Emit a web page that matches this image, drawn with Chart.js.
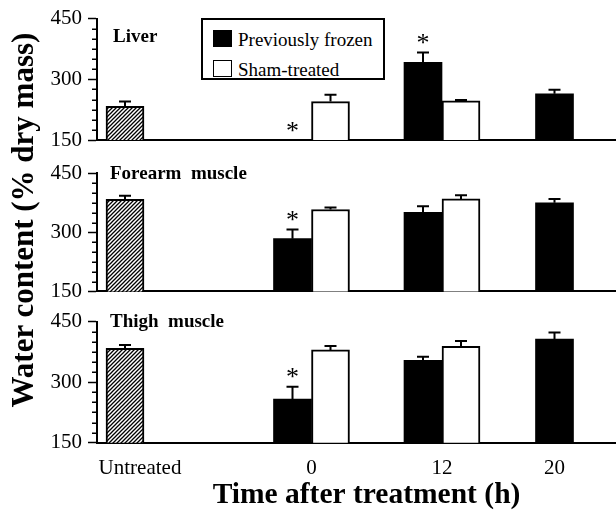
<!DOCTYPE html>
<html>
<head>
<meta charset="utf-8">
<script src="https://cdn.jsdelivr.net/npm/chart.js@4.4.1/dist/chart.umd.min.js"></script>
<style>
html, body { margin:0; padding:0; background:#fff; }
#wrap { position:relative; width:616px; height:514px; overflow:hidden; background:#fff;
        font-family:"Liberation Serif","Times New Roman",serif; color:#000; }
#wrap canvas { position:absolute; left:0; }
#ytitle { position:absolute; width:440px; height:34px; line-height:34px; text-align:center;
          font-weight:bold; font-size:31px; white-space:nowrap;
          left:-197.4px; top:203px; transform:rotate(-90deg); }
#legendBox { position:absolute; left:201px; top:18px; width:180px; height:58px;
             border:2px solid #000; background:#fff; }
.lg-swatch { position:absolute; width:18.5px; height:16.5px; box-sizing:border-box; }
.lg-text { position:absolute; font-size:19px; line-height:20px; white-space:nowrap; }
</style>
</head>
<body>
<div id="wrap">
  <canvas id="cLiver" width="616" height="160" style="top:0px"></canvas>
  <canvas id="cForearm" width="616" height="160" style="top:150px"></canvas>
  <canvas id="cThigh" width="616" height="214" style="top:300px"></canvas>
  <div id="ytitle">Water content (% dry mass)</div>
  <div id="legendBox"></div>
  <div class="lg-swatch" style="left:213px;top:30px;background:#000;"></div>
  <div class="lg-text" id="lgFrozen" style="left:238px;top:30px;"></div>
  <div class="lg-swatch" style="left:213px;top:60px;background:#fff;border:1.5px solid #000;"></div>
  <div class="lg-text" id="lgSham" style="left:238px;top:60px;"></div>
</div>
<script>
// ---------------- data ----------------
const categories = ['Untreated', '0', '12', '20'];
const seriesNames = ['Untreated', 'Previously frozen', 'Sham-treated'];

// Liver
const liverUntreated    = [233, null, null, null];
const liverUntreatedErr = [12, null, null, null];
const liverFrozen       = [null, 150, 342, 264];
const liverFrozenErr    = [null, 0, 24, 10];
const liverSham         = [null, 245, 247, null];
const liverShamErr      = [null, 17, 2, null];
const liverSignif       = [false, true, true, false];

// Forearm muscle
const forearmUntreated    = [384, null, null, null];
const forearmUntreatedErr = [9, null, null, null];
const forearmFrozen       = [null, 284, 351, 375];
const forearmFrozenErr    = [null, 23, 15, 10];
const forearmSham         = [null, 358, 385, null];
const forearmShamErr      = [null, 5, 9, null];
const forearmSignif       = [false, true, false, false];

// Thigh muscle
const thighUntreated    = [384, null, null, null];
const thighUntreatedErr = [8, null, null, null];
const thighFrozen       = [null, 258, 354, 407];
const thighFrozenErr    = [null, 31, 9, 16];
const thighSham         = [null, 380, 389, null];
const thighShamErr      = [null, 10, 13, null];
const thighSignif       = [false, true, false, false];

const yMin = 150, yMax = 450, yMinorStep = 25;
const yMajorTicks = [150, 300, 450];

// ---------------- layout / style ----------------
const FONT = '"Liberation Serif", "Times New Roman", serif';
const SLOT_PX = [28, 214.5, 345, 457.5];     // category centres, px from axis
const LABEL_SHIFT_PX = [15, 0, 0, 0];        // tick label offsets
const X_AXIS_EXTRA_RIGHT = 20;               // axis runs past the canvas edge
const MINOR_TICK_LEN = 5;

document.getElementById('lgFrozen').textContent = seriesNames[1];
document.getElementById('lgSham').textContent = seriesNames[2];

class SlotScale extends Chart.CategoryScale {
  getPixelForValue(value) {
    if (typeof value !== 'number') value = this.parse(value);
    if (value === null || !isFinite(value)) return NaN;
    return this.left + SLOT_PX[Math.round(value)];
  }
  getPixelForTick(index) {
    const t = this.ticks[index];
    if (!t) return null;
    return this.getPixelForValue(t.value) + LABEL_SHIFT_PX[t.value];
  }
}
SlotScale.id = 'slot';
SlotScale.defaults = Chart.CategoryScale.defaults;
Chart.register(SlotScale);

function makeHatch() {
  const s = 4;
  const c = document.createElement('canvas');
  c.width = s; c.height = s;
  const g = c.getContext('2d');
  g.fillStyle = '#fff'; g.fillRect(0, 0, s, s);
  g.strokeStyle = '#000'; g.lineWidth = 1.3;
  g.beginPath();
  g.moveTo(0, s); g.lineTo(s, 0);
  g.moveTo(-1, 1); g.lineTo(1, -1);
  g.moveTo(s - 1, s + 1); g.lineTo(s + 1, s - 1);
  g.stroke();
  return g.createPattern(c, 'repeat');
}
const hatch = makeHatch();

const yTickValues = [];
for (let v = yMin; v <= yMax; v += yMinorStep) yTickValues.push(v);

const errorBarPlugin = {
  id: 'errorBars',
  afterDatasetsDraw(chart) {
    const ctx = chart.ctx;
    const yScale = chart.scales.y;
    chart.data.datasets.forEach((ds, di) => {
      const meta = chart.getDatasetMeta(di);
      meta.data.forEach((bar, i) => {
        const v = ds.data[i];
        if (v === null || v === undefined) return;
        const e = ds.errors ? ds.errors[i] : null;
        let yTop = bar.y;
        ctx.save();
        ctx.strokeStyle = '#000';
        ctx.lineWidth = 2;
        if (e) {
          yTop = yScale.getPixelForValue(v + e);
          ctx.beginPath();
          ctx.moveTo(bar.x, bar.y); ctx.lineTo(bar.x, yTop);
          ctx.moveTo(bar.x - 6, yTop); ctx.lineTo(bar.x + 6, yTop);
          ctx.stroke();
        }
        if (ds.signif && ds.signif[i]) {
          ctx.fillStyle = '#000';
          ctx.font = '26px ' + FONT;
          ctx.textAlign = 'center';
          ctx.textBaseline = 'alphabetic';
          ctx.fillText('*', bar.x, yTop - 1.5);
        }
        ctx.restore();
      });
    });
  }
};

const panelPlugin = {
  id: 'panelLabel',
  afterLayout(chart) {
    const xs = chart.scales.x;
    xs.right += X_AXIS_EXTRA_RIGHT;
    xs.width += X_AXIS_EXTRA_RIGHT;
  },
  afterDraw(chart, args, opts) {
    const ctx = chart.ctx;
    const ys = chart.scales.y;
    ctx.save();
    // minor tick marks (shorter than the major ones)
    ctx.strokeStyle = '#000';
    ctx.lineWidth = 1.5;
    ctx.beginPath();
    ys.ticks.forEach(t => {
      if (yMajorTicks.includes(t.value)) return;
      const py = Math.round(ys.getPixelForValue(t.value)) + 0.25;
      ctx.moveTo(ys.right - MINOR_TICK_LEN, py);
      ctx.lineTo(ys.right, py);
    });
    ctx.stroke();
    // panel label
    ctx.fillStyle = '#000';
    ctx.font = 'bold 19px ' + FONT;
    ctx.textAlign = 'left';
    ctx.textBaseline = 'alphabetic';
    ctx.fillText(opts.text, chart.chartArea.left + opts.dx, chart.chartArea.top + opts.dy);
    ctx.restore();
  }
};

function makePanel(id, label, lp, s, pad, isBottom) {
  return new Chart(document.getElementById(id), {
    type: 'bar',
    data: {
      labels: categories,
      datasets: [
        { label: seriesNames[0], data: s.u, errors: s.ue, backgroundColor: hatch,
          borderColor: '#000', borderWidth: 2 },
        { label: seriesNames[1], data: s.f, errors: s.fe, signif: s.sig, backgroundColor: '#000',
          borderColor: '#000', borderWidth: 0 },
        { label: seriesNames[2], data: s.s, errors: s.se, backgroundColor: '#fff',
          borderColor: '#000', borderWidth: 2 }
      ]
    },
    options: {
      responsive: false, animation: false, devicePixelRatio: 1,
      layout: { padding: { left: 0, right: 0, top: pad.top, bottom: pad.bottom } },
      datasets: { bar: { barThickness: 38, skipNull: true } },
      plugins: {
        legend: { display: false }, tooltip: { enabled: false },
        panelLabel: { text: label, dx: lp.dx, dy: lp.dy }
      },
      scales: {
        x: {
          type: 'slot', labels: categories,
          afterFit: sc => { sc.height = isBottom ? 71.3 : 0; },
          grid: { display: false, drawTicks: false },
          border: { display: true, color: '#000', width: 2 },
          ticks: { display: isBottom, autoSkip: false, maxRotation: 0, minRotation: 0,
                   padding: 13.6, color: '#000', font: { family: FONT, size: 21 } },
          title: { display: isBottom, text: 'Time after treatment (h)', color: '#000',
                   font: { family: FONT, size: 29.5, weight: 'bold' }, padding: { top: 0, bottom: 1 } }
        },
        y: {
          type: 'linear', min: yMin, max: yMax,
          afterFit: sc => { sc.width = 97; },
          afterBuildTicks: sc => { sc.ticks = yTickValues.map(v => ({ value: v })); },
          ticks: { autoSkip: false, padding: 6, color: '#000', font: { family: FONT, size: 21 },
                   callback: v => yMajorTicks.includes(v) ? String(v) : '' },
          grid: { display: true, drawOnChartArea: false, drawTicks: true, tickLength: 9,
                  tickWidth: 1.5,
                  tickColor: c => (c.tick && yMajorTicks.includes(c.tick.value)) ? '#000' : 'rgba(0,0,0,0)' },
          border: { display: true, color: '#000', width: 2 }
        }
      }
    },
    plugins: [errorBarPlugin, panelPlugin]
  });
}

makePanel('cLiver', 'Liver', { dx: 16, dy: 23.3 },
  { u: liverUntreated, ue: liverUntreatedErr, f: liverFrozen, fe: liverFrozenErr,
    s: liverSham, se: liverShamErr, sig: liverSignif },
  { top: 16.7, bottom: 20 }, false);
makePanel('cForearm', 'Forearm  muscle', { dx: 13, dy: 6 },
  { u: forearmUntreated, ue: forearmUntreatedErr, f: forearmFrozen, fe: forearmFrozenErr,
    s: forearmSham, se: forearmShamErr, sig: forearmSignif },
  { top: 23.3, bottom: 17.3 }, false);
makePanel('cThigh', 'Thigh  muscle', { dx: 13, dy: 5.3 },
  { u: thighUntreated, ue: thighUntreatedErr, f: thighFrozen, fe: thighFrozenErr,
    s: thighSham, se: thighShamErr, sig: thighSignif },
  { top: 21.7, bottom: 0 }, true);
</script>
</body>
</html>
